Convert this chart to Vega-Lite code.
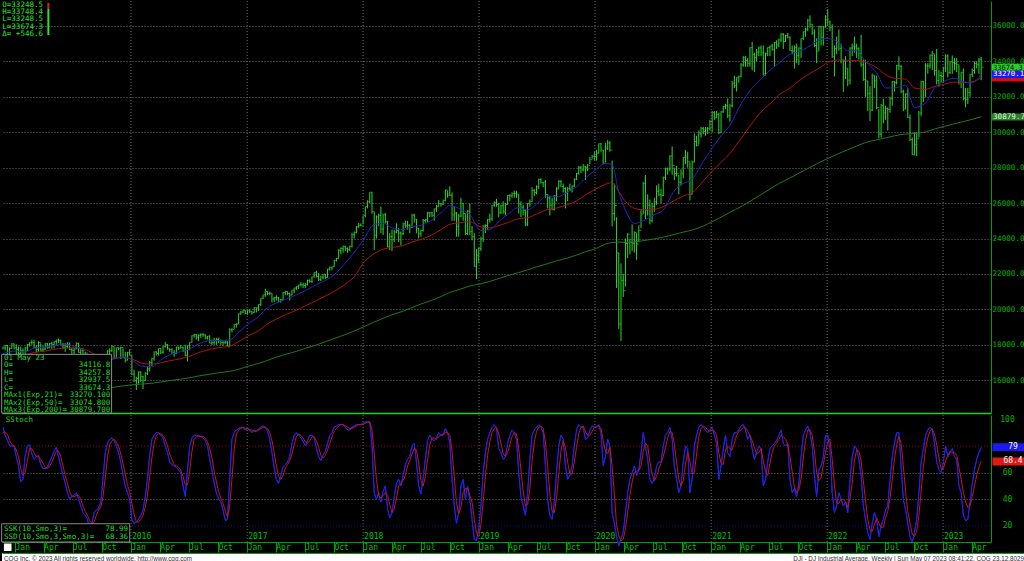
{
"$schema":"https://vega.github.io/schema/vega-lite/v6.json",
"background":"#000000",
"padding":0,
"spacing":0,
"config":{"view":{"stroke":null},"axis":{"domainWidth":1}},
"datasets":{
"yr":[{"t":"2016-01-01","n":"2016"},{"t":"2017-01-01","n":"2017"},{"t":"2018-01-01","n":"2018"},{"t":"2019-01-01","n":"2019"},{"t":"2020-01-01","n":"2020"},{"t":"2021-01-01","n":"2021"},{"t":"2022-01-01","n":"2022"},{"t":"2023-01-01","n":"2023"}],
"ma":[
{"t":"2014-11-24","a":17500,"b":17250,"g":14450},{"t":"2015-01-05","a":17650,"b":17420,"g":14560},{"t":"2015-02-02","a":17600,"b":17450,"g":14650},{"t":"2015-03-02","a":17820,"b":17560,"g":14760},{"t":"2015-04-06","a":17870,"b":17650,"g":14880},{"t":"2015-05-04","a":17960,"b":17740,"g":14990},{"t":"2015-06-01","a":18040,"b":17820,"g":15100},{"t":"2015-07-06","a":17900,"b":17830,"g":15220},{"t":"2015-08-03","a":17750,"b":17780,"g":15320},{"t":"2015-09-07","a":17120,"b":17480,"g":15400},{"t":"2015-10-05","a":16880,"b":17260,"g":15490},{"t":"2015-11-02","a":17150,"b":17250,"g":15590},{"t":"2015-12-07","a":17320,"b":17270,"g":15680},
{"t":"2016-01-04","a":17150,"b":17200,"g":15740},{"t":"2016-02-01","a":16800,"b":16980,"g":15780},{"t":"2016-03-07","a":16750,"b":16900,"g":15830},{"t":"2016-04-04","a":17150,"b":16980,"g":15900},{"t":"2016-05-02","a":17430,"b":17100,"g":15980},{"t":"2016-06-06","a":17620,"b":17220,"g":16060},{"t":"2016-07-04","a":17760,"b":17360,"g":16140},{"t":"2016-08-01","a":18050,"b":17560,"g":16240},{"t":"2016-09-05","a":18230,"b":17740,"g":16340},{"t":"2016-10-03","a":18240,"b":17840,"g":16420},{"t":"2016-11-07","a":18280,"b":17920,"g":16500},{"t":"2016-12-05","a":18700,"b":18180,"g":16620},
{"t":"2017-01-02","a":19150,"b":18480,"g":16780},{"t":"2017-02-06","a":19600,"b":18800,"g":16950},{"t":"2017-03-06","a":20100,"b":19180,"g":17120},{"t":"2017-04-03","a":20360,"b":19450,"g":17300},{"t":"2017-05-01","a":20560,"b":19700,"g":17460},{"t":"2017-06-05","a":20820,"b":19950,"g":17630},{"t":"2017-07-03","a":21060,"b":20200,"g":17800},{"t":"2017-08-07","a":21400,"b":20500,"g":17990},{"t":"2017-09-04","a":21630,"b":20750,"g":18170},{"t":"2017-10-02","a":21960,"b":21020,"g":18350},{"t":"2017-11-06","a":22620,"b":21420,"g":18580},{"t":"2017-12-04","a":23220,"b":21850,"g":18780},
{"t":"2018-01-01","a":23900,"b":22600,"g":19000},{"t":"2018-02-05","a":24800,"b":23150,"g":19280},{"t":"2018-03-05","a":24850,"b":23400,"g":19500},{"t":"2018-04-02","a":24600,"b":23500,"g":19700},{"t":"2018-05-07","a":24500,"b":23600,"g":19900},{"t":"2018-06-04","a":24680,"b":23800,"g":20100},{"t":"2018-07-02","a":24750,"b":23950,"g":20300},{"t":"2018-08-06","a":25050,"b":24200,"g":20520},{"t":"2018-09-03","a":25450,"b":24500,"g":20720},{"t":"2018-10-01","a":25850,"b":24800,"g":20950},{"t":"2018-11-05","a":25650,"b":24900,"g":21150},{"t":"2018-12-03","a":25350,"b":24950,"g":21320},
{"t":"2019-01-07","a":24450,"b":24650,"g":21450},{"t":"2019-02-04","a":24500,"b":24600,"g":21580},{"t":"2019-03-04","a":24950,"b":24720,"g":21740},{"t":"2019-04-01","a":25350,"b":24900,"g":21900},{"t":"2019-05-06","a":25750,"b":25120,"g":22080},{"t":"2019-06-03","a":25620,"b":25170,"g":22230},{"t":"2019-07-01","a":25950,"b":25380,"g":22400},{"t":"2019-08-05","a":26420,"b":25640,"g":22580},{"t":"2019-09-02","a":26350,"b":25720,"g":22740},{"t":"2019-10-07","a":26620,"b":25920,"g":22900},{"t":"2019-11-04","a":26920,"b":26120,"g":23070},{"t":"2019-12-02","a":27420,"b":26460,"g":23250},
{"t":"2020-01-06","a":27920,"b":26820,"g":23450},{"t":"2020-02-03","a":28240,"b":27060,"g":23680},{"t":"2020-02-24","a":28180,"b":27150,"g":23780},{"t":"2020-03-16","a":26600,"b":26650,"g":23800},{"t":"2020-04-06","a":25600,"b":26100,"g":23780},{"t":"2020-05-04","a":24850,"b":25700,"g":23800},{"t":"2020-06-01","a":25000,"b":25620,"g":23880},{"t":"2020-07-06","a":25350,"b":25650,"g":23980},{"t":"2020-08-03","a":25600,"b":25800,"g":24080},{"t":"2020-09-07","a":26700,"b":26150,"g":24230},{"t":"2020-10-05","a":27100,"b":26400,"g":24360},{"t":"2020-11-02","a":27350,"b":26580,"g":24480},{"t":"2020-12-07","a":28350,"b":27250,"g":24700},
{"t":"2021-01-04","a":29100,"b":27800,"g":24950},{"t":"2021-02-01","a":29800,"b":28300,"g":25200},{"t":"2021-03-01","a":30400,"b":28800,"g":25480},{"t":"2021-04-05","a":31600,"b":29650,"g":25800},{"t":"2021-05-03","a":32350,"b":30350,"g":26100},{"t":"2021-06-07","a":33000,"b":31150,"g":26480},{"t":"2021-07-05","a":33500,"b":31600,"g":26800},{"t":"2021-08-02","a":33900,"b":32100,"g":27100},{"t":"2021-09-06","a":34400,"b":32500,"g":27420},{"t":"2021-10-04","a":34550,"b":32900,"g":27680},{"t":"2021-11-01","a":34800,"b":33250,"g":27950},{"t":"2021-12-06","a":35200,"b":33600,"g":28280},
{"t":"2022-01-03","a":35300,"b":33950,"g":28520},{"t":"2022-02-07","a":35050,"b":34080,"g":28800},{"t":"2022-03-07","a":34600,"b":34060,"g":29020},{"t":"2022-04-04","a":34600,"b":34050,"g":29220},{"t":"2022-05-02","a":34000,"b":33950,"g":29420},{"t":"2022-06-06","a":33350,"b":33650,"g":29570},{"t":"2022-07-04","a":32500,"b":33250,"g":29680},{"t":"2022-08-01","a":32500,"b":33050,"g":29800},{"t":"2022-09-05","a":32650,"b":33000,"g":29900},{"t":"2022-10-03","a":31400,"b":32500,"g":29930},{"t":"2022-11-07","a":31650,"b":32420,"g":30020},{"t":"2022-12-05","a":32500,"b":32580,"g":30180},
{"t":"2023-01-02","a":32850,"b":32700,"g":30320},{"t":"2023-02-06","a":33050,"b":32830,"g":30480},{"t":"2023-03-06","a":32850,"b":32800,"g":30600},{"t":"2023-04-03","a":32800,"b":32850,"g":30730},{"t":"2023-05-01","a":33270,"b":33075,"g":30880}
],
"w":[
{"t":"2014-11-24","h":17895,"l":17740,"c":17828,"k":94,"d":90},{"t":"2014-12-01","h":17991,"l":17684,"c":17959,"k":88,"d":90},{"t":"2014-12-08","h":17990,"l":17263,"c":17280,"k":84,"d":89},{"t":"2014-12-15","h":17850,"l":17068,"c":17805,"k":80,"d":84},{"t":"2014-12-22","h":18103,"l":17790,"c":18053,"k":80,"d":81},{"t":"2014-12-29","h":18070,"l":17736,"c":17833,"k":80,"d":80},
{"t":"2015-01-05","h":18030,"l":17260,"c":17737,"k":72,"d":77},{"t":"2015-01-12","h":17900,"l":17137,"c":17511,"k":65,"d":72},{"t":"2015-01-19","h":17900,"l":17350,"c":17672,"k":53,"d":63},{"t":"2015-01-26","h":17800,"l":17137,"c":17165,"k":55,"d":58},{"t":"2015-02-02","h":17890,"l":17037,"c":17824,"k":73,"d":60},{"t":"2015-02-09","h":18050,"l":17650,"c":18019,"k":80,"d":69},{"t":"2015-02-16","h":18140,"l":17900,"c":18140,"k":81,"d":78},{"t":"2015-02-23","h":18290,"l":18000,"c":18133,"k":74,"d":78},{"t":"2015-03-02","h":18288,"l":17800,"c":17856,"k":70,"d":75},{"t":"2015-03-09","h":17980,"l":17580,"c":17749,"k":72,"d":72},{"t":"2015-03-16","h":18200,"l":17600,"c":18127,"k":73,"d":72},{"t":"2015-03-23","h":18070,"l":17660,"c":17712,"k":66,"d":70},{"t":"2015-03-30","h":17950,"l":17580,"c":17763,"k":63,"d":67},{"t":"2015-04-06","h":18100,"l":17700,"c":18057,"k":63,"d":64},{"t":"2015-04-13","h":18100,"l":17780,"c":17826,"k":64,"d":63},{"t":"2015-04-20","h":18100,"l":17820,"c":18080,"k":68,"d":65},{"t":"2015-04-27","h":18175,"l":17790,"c":18024,"k":72,"d":68},{"t":"2015-05-04","h":18200,"l":17800,"c":18191,"k":76,"d":72},{"t":"2015-05-11","h":18290,"l":17960,"c":18272,"k":79,"d":76},{"t":"2015-05-18","h":18351,"l":18100,"c":18232,"k":72,"d":76},{"t":"2015-05-25","h":18300,"l":17990,"c":18010,"k":65,"d":72},{"t":"2015-06-01","h":18100,"l":17750,"c":17849,"k":58,"d":65},{"t":"2015-06-08","h":18100,"l":17600,"c":17898,"k":52,"d":58},{"t":"2015-06-15","h":18150,"l":17800,"c":18015,"k":45,"d":52},{"t":"2015-06-22","h":18130,"l":17700,"c":17730,"k":40,"d":46},{"t":"2015-06-29","h":17830,"l":17470,"c":17683,"k":42,"d":42},{"t":"2015-07-06","h":17830,"l":17470,"c":17760,"k":43,"d":42},{"t":"2015-07-13","h":18137,"l":17760,"c":18086,"k":45,"d":43},{"t":"2015-07-20","h":18100,"l":17550,"c":17569,"k":40,"d":43},{"t":"2015-07-27","h":17750,"l":17400,"c":17690,"k":35,"d":40},{"t":"2015-08-03","h":17750,"l":17300,"c":17373,"k":30,"d":35},{"t":"2015-08-10","h":17600,"l":17200,"c":17477,"k":28,"d":31},{"t":"2015-08-17","h":17550,"l":16450,"c":16460,"k":25,"d":28},{"t":"2015-08-24","h":16650,"l":15370,"c":16643,"k":18,"d":24},{"t":"2015-08-31","h":16700,"l":16000,"c":16102,"k":22,"d":22},{"t":"2015-09-07","h":16500,"l":16050,"c":16433,"k":30,"d":23},{"t":"2015-09-14","h":16900,"l":16300,"c":16384,"k":32,"d":28},{"t":"2015-09-21","h":16500,"l":16000,"c":16315,"k":33,"d":32},{"t":"2015-09-28","h":16500,"l":15940,"c":16472,"k":38,"d":34},{"t":"2015-10-05","h":17100,"l":16500,"c":17084,"k":55,"d":42},{"t":"2015-10-12","h":17220,"l":16800,"c":17216,"k":75,"d":56},{"t":"2015-10-19","h":17700,"l":17150,"c":17646,"k":82,"d":71},{"t":"2015-10-26","h":17800,"l":17450,"c":17663,"k":85,"d":81},{"t":"2015-11-02","h":17980,"l":17600,"c":17910,"k":86,"d":84},{"t":"2015-11-09","h":17900,"l":17200,"c":17245,"k":84,"d":85},{"t":"2015-11-16","h":17850,"l":17240,"c":17823,"k":80,"d":83},{"t":"2015-11-23","h":17850,"l":17700,"c":17798,"k":75,"d":80},{"t":"2015-11-30","h":17900,"l":17200,"c":17848,"k":68,"d":74},{"t":"2015-12-07","h":17800,"l":17250,"c":17265,"k":58,"d":67},{"t":"2015-12-14","h":17600,"l":17000,"c":17128,"k":50,"d":59},{"t":"2015-12-21","h":17600,"l":17130,"c":17553,"k":45,"d":51},{"t":"2015-12-28","h":17750,"l":17400,"c":17425,"k":40,"d":45},
{"t":"2016-01-04","h":17400,"l":16300,"c":16347,"k":25,"d":37},{"t":"2016-01-11","h":16600,"l":15900,"c":15988,"k":22,"d":29},{"t":"2016-01-18","h":16200,"l":15450,"c":16094,"k":23,"d":23},{"t":"2016-01-25","h":16500,"l":15800,"c":16466,"k":25,"d":23},{"t":"2016-02-01","h":16500,"l":15900,"c":16205,"k":28,"d":25},{"t":"2016-02-08","h":16250,"l":15503,"c":15974,"k":32,"d":28},{"t":"2016-02-15","h":16450,"l":15950,"c":16392,"k":42,"d":34},{"t":"2016-02-22","h":16800,"l":16300,"c":16640,"k":55,"d":43},{"t":"2016-02-29","h":17100,"l":16500,"c":17007,"k":73,"d":57},{"t":"2016-03-07","h":17250,"l":16800,"c":17213,"k":85,"d":71},{"t":"2016-03-14","h":17620,"l":17100,"c":17602,"k":88,"d":82},{"t":"2016-03-21","h":17620,"l":17400,"c":17515,"k":90,"d":88},{"t":"2016-03-28","h":17800,"l":17400,"c":17792,"k":90,"d":89},{"t":"2016-04-04","h":17800,"l":17480,"c":17577,"k":88,"d":89},{"t":"2016-04-11","h":17950,"l":17500,"c":17897,"k":86,"d":88},{"t":"2016-04-18","h":18167,"l":17850,"c":18003,"k":80,"d":85},{"t":"2016-04-25","h":18040,"l":17720,"c":17773,"k":75,"d":80},{"t":"2016-05-02","h":17800,"l":17600,"c":17740,"k":68,"d":74},{"t":"2016-05-09","h":17800,"l":17500,"c":17535,"k":66,"d":70},{"t":"2016-05-16","h":17700,"l":17330,"c":17500,"k":65,"d":66},{"t":"2016-05-23","h":17900,"l":17500,"c":17873,"k":64,"d":65},{"t":"2016-05-30","h":17900,"l":17700,"c":17807,"k":62,"d":64},{"t":"2016-06-06","h":18000,"l":17800,"c":17865,"k":60,"d":62},{"t":"2016-06-13","h":17900,"l":17600,"c":17675,"k":50,"d":57},{"t":"2016-06-20","h":18000,"l":17350,"c":17400,"k":42,"d":51},{"t":"2016-06-27","h":17950,"l":17063,"c":17949,"k":62,"d":51},{"t":"2016-07-04","h":18150,"l":17700,"c":18147,"k":80,"d":61},{"t":"2016-07-11","h":18537,"l":18150,"c":18516,"k":86,"d":76},{"t":"2016-07-18","h":18622,"l":18400,"c":18571,"k":88,"d":85},{"t":"2016-07-25","h":18600,"l":18300,"c":18432,"k":88,"d":87},{"t":"2016-08-01","h":18600,"l":18200,"c":18544,"k":87,"d":88},{"t":"2016-08-08","h":18650,"l":18400,"c":18577,"k":87,"d":87},{"t":"2016-08-15","h":18670,"l":18450,"c":18553,"k":86,"d":87},{"t":"2016-08-22","h":18600,"l":18300,"c":18395,"k":84,"d":86},{"t":"2016-08-29","h":18500,"l":18300,"c":18492,"k":80,"d":83},{"t":"2016-09-05","h":18530,"l":18080,"c":18086,"k":70,"d":78},{"t":"2016-09-12","h":18300,"l":17990,"c":18124,"k":62,"d":71},{"t":"2016-09-19","h":18400,"l":18000,"c":18261,"k":52,"d":61},{"t":"2016-09-26","h":18400,"l":17990,"c":18308,"k":45,"d":53},{"t":"2016-10-03","h":18400,"l":18100,"c":18240,"k":40,"d":46},{"t":"2016-10-10","h":18300,"l":18000,"c":18138,"k":38,"d":41},{"t":"2016-10-17","h":18200,"l":17960,"c":18145,"k":32,"d":37},{"t":"2016-10-24","h":18250,"l":18050,"c":18161,"k":24,"d":31},{"t":"2016-10-31","h":18200,"l":17883,"c":17888,"k":25,"d":27},{"t":"2016-11-07","h":18934,"l":17900,"c":18847,"k":55,"d":35},{"t":"2016-11-14","h":18935,"l":18700,"c":18868,"k":85,"d":55},{"t":"2016-11-21","h":19160,"l":18900,"c":19152,"k":90,"d":77},{"t":"2016-11-28","h":19226,"l":18970,"c":19171,"k":92,"d":89},{"t":"2016-12-05","h":19760,"l":19180,"c":19757,"k":93,"d":92},{"t":"2016-12-12","h":19911,"l":19700,"c":19843,"k":94,"d":93},{"t":"2016-12-19","h":19987,"l":19800,"c":19934,"k":94,"d":94},{"t":"2016-12-26","h":19950,"l":19720,"c":19763,"k":92,"d":93},
{"t":"2017-01-02","h":19999,"l":19700,"c":19964,"k":93,"d":93},{"t":"2017-01-09","h":19980,"l":19800,"c":19886,"k":92,"d":92},{"t":"2017-01-16","h":19900,"l":19700,"c":19827,"k":90,"d":92},{"t":"2017-01-23","h":20125,"l":19800,"c":20094,"k":92,"d":91},{"t":"2017-01-30","h":20100,"l":19830,"c":20071,"k":91,"d":91},{"t":"2017-02-06","h":20298,"l":19900,"c":20269,"k":93,"d":92},{"t":"2017-02-13","h":20650,"l":20200,"c":20624,"k":94,"d":93},{"t":"2017-02-20","h":20840,"l":20600,"c":20822,"k":95,"d":94},{"t":"2017-02-27","h":21169,"l":20700,"c":21005,"k":94,"d":94},{"t":"2017-03-06","h":21000,"l":20800,"c":20902,"k":91,"d":93},{"t":"2017-03-13","h":21000,"l":20800,"c":20914,"k":85,"d":90},{"t":"2017-03-20","h":20900,"l":20400,"c":20596,"k":75,"d":84},{"t":"2017-03-27","h":20700,"l":20400,"c":20663,"k":64,"d":75},{"t":"2017-04-03","h":20800,"l":20500,"c":20656,"k":55,"d":65},{"t":"2017-04-10","h":20700,"l":20400,"c":20453,"k":52,"d":57},{"t":"2017-04-17","h":20600,"l":20380,"c":20548,"k":58,"d":55},{"t":"2017-04-24","h":21000,"l":20550,"c":20940,"k":64,"d":58},{"t":"2017-05-01","h":21050,"l":20800,"c":21006,"k":66,"d":63},{"t":"2017-05-08","h":21000,"l":20800,"c":20896,"k":68,"d":66},{"t":"2017-05-15","h":20950,"l":20500,"c":20804,"k":72,"d":69},{"t":"2017-05-22","h":21100,"l":20800,"c":21080,"k":82,"d":74},{"t":"2017-05-29","h":21225,"l":20900,"c":21206,"k":88,"d":81},{"t":"2017-06-05","h":21305,"l":21100,"c":21271,"k":90,"d":87},{"t":"2017-06-12","h":21391,"l":21150,"c":21384,"k":88,"d":89},{"t":"2017-06-19","h":21535,"l":21300,"c":21394,"k":86,"d":88},{"t":"2017-06-26","h":21500,"l":21200,"c":21350,"k":83,"d":86},{"t":"2017-07-03","h":21500,"l":21200,"c":21414,"k":80,"d":83},{"t":"2017-07-10","h":21680,"l":21350,"c":21638,"k":84,"d":82},{"t":"2017-07-17","h":21690,"l":21500,"c":21580,"k":88,"d":84},{"t":"2017-07-24","h":21850,"l":21500,"c":21830,"k":88,"d":87},{"t":"2017-07-31","h":22100,"l":21800,"c":22092,"k":86,"d":87},{"t":"2017-08-07","h":22179,"l":21800,"c":21858,"k":78,"d":84},{"t":"2017-08-14","h":22050,"l":21600,"c":21675,"k":72,"d":79},{"t":"2017-08-21","h":21900,"l":21600,"c":21814,"k":69,"d":73},{"t":"2017-08-28","h":22000,"l":21700,"c":21988,"k":73,"d":71},{"t":"2017-09-04","h":22000,"l":21700,"c":21798,"k":76,"d":73},{"t":"2017-09-11","h":22290,"l":21800,"c":22268,"k":82,"d":77},{"t":"2017-09-18","h":22420,"l":22200,"c":22349,"k":88,"d":82},{"t":"2017-09-25","h":22420,"l":22200,"c":22405,"k":90,"d":87},{"t":"2017-10-02","h":22800,"l":22400,"c":22773,"k":94,"d":91},{"t":"2017-10-09","h":22900,"l":22700,"c":22871,"k":95,"d":93},{"t":"2017-10-16","h":23400,"l":22900,"c":23329,"k":96,"d":95},{"t":"2017-10-23","h":23500,"l":23100,"c":23434,"k":96,"d":96},{"t":"2017-10-30","h":23600,"l":23200,"c":23539,"k":96,"d":96},{"t":"2017-11-06","h":23602,"l":23300,"c":23422,"k":94,"d":95},{"t":"2017-11-13","h":23500,"l":23200,"c":23358,"k":92,"d":94},{"t":"2017-11-20","h":23600,"l":23300,"c":23558,"k":92,"d":93},{"t":"2017-11-27","h":24327,"l":23500,"c":24231,"k":94,"d":93},{"t":"2017-12-04","h":24400,"l":24000,"c":24329,"k":95,"d":94},{"t":"2017-12-11","h":24700,"l":24300,"c":24651,"k":96,"d":95},{"t":"2017-12-18","h":24876,"l":24600,"c":24754,"k":96,"d":96},{"t":"2017-12-25","h":24850,"l":24700,"c":24719,"k":96,"d":96},
{"t":"2018-01-01","h":25300,"l":24800,"c":25296,"k":97,"d":96},{"t":"2018-01-08","h":25804,"l":25200,"c":25803,"k":98,"d":97},{"t":"2018-01-15","h":26154,"l":25700,"c":26072,"k":98,"d":98},{"t":"2018-01-22","h":26617,"l":26000,"c":26617,"k":98,"d":98},{"t":"2018-01-29","h":26616,"l":25400,"c":25521,"k":80,"d":92},{"t":"2018-02-05","h":25500,"l":23360,"c":24191,"k":45,"d":74},{"t":"2018-02-12","h":25300,"l":24000,"c":25219,"k":40,"d":55},{"t":"2018-02-19","h":25400,"l":24700,"c":25310,"k":45,"d":43},{"t":"2018-02-26","h":25800,"l":24300,"c":24538,"k":38,"d":41},{"t":"2018-03-05","h":25400,"l":24200,"c":25336,"k":46,"d":43},{"t":"2018-03-12","h":25450,"l":24850,"c":24946,"k":50,"d":45},{"t":"2018-03-19","h":25000,"l":23500,"c":23533,"k":33,"d":43},{"t":"2018-03-26","h":24300,"l":23350,"c":24103,"k":26,"d":36},{"t":"2018-04-02","h":24500,"l":23300,"c":23933,"k":30,"d":30},{"t":"2018-04-09","h":24500,"l":23800,"c":24360,"k":42,"d":33},{"t":"2018-04-16","h":24860,"l":24300,"c":24463,"k":52,"d":41},{"t":"2018-04-23","h":24600,"l":23800,"c":24311,"k":55,"d":50},{"t":"2018-04-30","h":24400,"l":23600,"c":24263,"k":50,"d":52},{"t":"2018-05-07","h":24900,"l":24200,"c":24831,"k":58,"d":54},{"t":"2018-05-14","h":25000,"l":24600,"c":24715,"k":66,"d":58},{"t":"2018-05-21","h":25000,"l":24500,"c":24753,"k":70,"d":65},{"t":"2018-05-28","h":24800,"l":24300,"c":24635,"k":72,"d":69},{"t":"2018-06-04","h":25400,"l":24600,"c":25317,"k":80,"d":74},{"t":"2018-06-11","h":25400,"l":24900,"c":25090,"k":82,"d":78},{"t":"2018-06-18","h":25100,"l":24300,"c":24581,"k":68,"d":77},{"t":"2018-06-25","h":24600,"l":24000,"c":24271,"k":50,"d":67},{"t":"2018-07-02","h":24500,"l":24100,"c":24456,"k":44,"d":54},{"t":"2018-07-09","h":25100,"l":24400,"c":25019,"k":56,"d":50},{"t":"2018-07-16","h":25100,"l":24900,"c":25058,"k":70,"d":57},{"t":"2018-07-23","h":25500,"l":24900,"c":25451,"k":84,"d":70},{"t":"2018-07-30","h":25500,"l":25200,"c":25463,"k":88,"d":81},{"t":"2018-08-06","h":25500,"l":25200,"c":25313,"k":85,"d":86},{"t":"2018-08-13","h":25700,"l":25000,"c":25669,"k":84,"d":86},{"t":"2018-08-20","h":25900,"l":25500,"c":25790,"k":86,"d":85},{"t":"2018-08-27","h":26170,"l":25800,"c":25965,"k":90,"d":87},{"t":"2018-09-03","h":26000,"l":25800,"c":25917,"k":88,"d":88},{"t":"2018-09-10","h":26200,"l":25900,"c":26155,"k":88,"d":89},{"t":"2018-09-17","h":26770,"l":26100,"c":26744,"k":93,"d":90},{"t":"2018-09-24","h":26700,"l":26300,"c":26458,"k":90,"d":90},{"t":"2018-10-01","h":26951,"l":26400,"c":26447,"k":82,"d":88},{"t":"2018-10-08","h":26600,"l":25000,"c":25340,"k":55,"d":76},{"t":"2018-10-15","h":25800,"l":25000,"c":25444,"k":35,"d":57},{"t":"2018-10-22","h":25500,"l":24100,"c":24688,"k":22,"d":37},{"t":"2018-10-29","h":25400,"l":24100,"c":25270,"k":30,"d":29},{"t":"2018-11-05","h":26300,"l":25200,"c":25989,"k":50,"d":34},{"t":"2018-11-12","h":26000,"l":25000,"c":25413,"k":55,"d":45},{"t":"2018-11-19","h":25400,"l":24200,"c":24285,"k":40,"d":48},{"t":"2018-11-26","h":25600,"l":24200,"c":25538,"k":50,"d":48},{"t":"2018-12-03","h":25980,"l":24200,"c":24389,"k":40,"d":43},{"t":"2018-12-10","h":24700,"l":23900,"c":24100,"k":25,"d":38},{"t":"2018-12-17","h":24300,"l":22400,"c":22445,"k":10,"d":25},{"t":"2018-12-24","h":23400,"l":21713,"c":23062,"k":9,"d":15},{"t":"2018-12-31","h":23500,"l":22600,"c":23433,"k":18,"d":12},
{"t":"2019-01-07","h":24100,"l":23300,"c":23996,"k":35,"d":21},{"t":"2019-01-14","h":24750,"l":23800,"c":24706,"k":60,"d":38},{"t":"2019-01-21","h":24800,"l":24300,"c":24737,"k":75,"d":57},{"t":"2019-01-28","h":25100,"l":24500,"c":25064,"k":85,"d":73},{"t":"2019-02-04","h":25400,"l":24900,"c":25106,"k":90,"d":83},{"t":"2019-02-11","h":25900,"l":25000,"c":25883,"k":94,"d":90},{"t":"2019-02-18","h":26100,"l":25800,"c":26031,"k":96,"d":93},{"t":"2019-02-25","h":26241,"l":25800,"c":25916,"k":93,"d":94},{"t":"2019-03-04","h":26000,"l":25200,"c":25450,"k":78,"d":89},{"t":"2019-03-11","h":25900,"l":25400,"c":25848,"k":75,"d":82},{"t":"2019-03-18","h":26100,"l":25400,"c":25502,"k":70,"d":74},{"t":"2019-03-25","h":26000,"l":25300,"c":25929,"k":72,"d":72},{"t":"2019-04-01","h":26450,"l":25900,"c":26425,"k":82,"d":75},{"t":"2019-04-08","h":26500,"l":26100,"c":26412,"k":88,"d":81},{"t":"2019-04-15","h":26600,"l":26300,"c":26559,"k":92,"d":87},{"t":"2019-04-22","h":26700,"l":26300,"c":26543,"k":90,"d":90},{"t":"2019-04-29","h":26700,"l":26300,"c":26505,"k":85,"d":89},{"t":"2019-05-06","h":26500,"l":25400,"c":25942,"k":60,"d":78},{"t":"2019-05-13","h":26100,"l":25200,"c":25764,"k":42,"d":62},{"t":"2019-05-20","h":25900,"l":25300,"c":25585,"k":35,"d":46},{"t":"2019-05-27","h":25600,"l":24700,"c":24815,"k":28,"d":35},{"t":"2019-06-03","h":26000,"l":24700,"c":25983,"k":45,"d":36},{"t":"2019-06-10","h":26200,"l":25800,"c":26090,"k":70,"d":48},{"t":"2019-06-17","h":26900,"l":26100,"c":26719,"k":88,"d":68},{"t":"2019-06-24","h":26800,"l":26400,"c":26600,"k":92,"d":83},{"t":"2019-07-01","h":27000,"l":26500,"c":26922,"k":94,"d":91},{"t":"2019-07-08","h":27388,"l":26800,"c":27332,"k":96,"d":94},{"t":"2019-07-15","h":27399,"l":27100,"c":27154,"k":94,"d":95},{"t":"2019-07-22","h":27200,"l":26900,"c":27192,"k":90,"d":93},{"t":"2019-07-29","h":27300,"l":26300,"c":26485,"k":65,"d":83},{"t":"2019-08-05","h":26500,"l":25700,"c":26287,"k":40,"d":65},{"t":"2019-08-12","h":26400,"l":25300,"c":25886,"k":28,"d":44},{"t":"2019-08-19","h":26300,"l":25600,"c":25629,"k":25,"d":31},{"t":"2019-08-26","h":26450,"l":25600,"c":26403,"k":38,"d":30},{"t":"2019-09-02","h":26900,"l":26100,"c":26797,"k":60,"d":41},{"t":"2019-09-09","h":27300,"l":26800,"c":27220,"k":80,"d":59},{"t":"2019-09-16","h":27300,"l":26900,"c":26935,"k":88,"d":76},{"t":"2019-09-23","h":27100,"l":26600,"c":26820,"k":85,"d":84},{"t":"2019-09-30","h":26900,"l":25700,"c":26573,"k":65,"d":79},{"t":"2019-10-07","h":26900,"l":26100,"c":26817,"k":55,"d":68},{"t":"2019-10-14","h":27100,"l":26700,"c":26770,"k":58,"d":59},{"t":"2019-10-21","h":27000,"l":26600,"c":26958,"k":65,"d":59},{"t":"2019-10-28","h":27400,"l":26900,"c":27347,"k":80,"d":68},{"t":"2019-11-04","h":27700,"l":27300,"c":27681,"k":92,"d":79},{"t":"2019-11-11","h":28100,"l":27600,"c":28005,"k":96,"d":89},{"t":"2019-11-18","h":28100,"l":27700,"c":27876,"k":94,"d":94},{"t":"2019-11-25","h":28200,"l":27800,"c":28051,"k":94,"d":95},{"t":"2019-12-02","h":28100,"l":27300,"c":28015,"k":85,"d":91},{"t":"2019-12-09","h":28200,"l":27800,"c":28135,"k":86,"d":88},{"t":"2019-12-16","h":28600,"l":28200,"c":28455,"k":92,"d":88},{"t":"2019-12-23","h":28700,"l":28500,"c":28645,"k":95,"d":91},{"t":"2019-12-30","h":28900,"l":28400,"c":28634,"k":94,"d":94},
{"t":"2020-01-06","h":29000,"l":28400,"c":28824,"k":94,"d":94},{"t":"2020-01-13","h":29374,"l":28800,"c":29348,"k":96,"d":95},{"t":"2020-01-20","h":29400,"l":28900,"c":28990,"k":90,"d":93},{"t":"2020-01-27","h":29000,"l":28200,"c":28256,"k":65,"d":84},{"t":"2020-02-03","h":29400,"l":28300,"c":29103,"k":72,"d":76},{"t":"2020-02-10","h":29568,"l":29000,"c":29398,"k":85,"d":74},{"t":"2020-02-17","h":29500,"l":28900,"c":28992,"k":80,"d":79},{"t":"2020-02-24","h":28400,"l":24681,"c":25409,"k":30,"d":65},{"t":"2020-03-02","h":27100,"l":25000,"c":25865,"k":22,"d":44},{"t":"2020-03-09","h":25200,"l":21200,"c":23185,"k":12,"d":21},{"t":"2020-03-16","h":23200,"l":18900,"c":19174,"k":5,"d":13},{"t":"2020-03-23","h":22600,"l":18213,"c":21637,"k":10,"d":9},{"t":"2020-03-30","h":22000,"l":20700,"c":21053,"k":15,"d":10},{"t":"2020-04-06","h":24000,"l":21300,"c":23719,"k":30,"d":18},{"t":"2020-04-13","h":24300,"l":22900,"c":24242,"k":45,"d":30},{"t":"2020-04-20","h":24000,"l":23100,"c":23775,"k":55,"d":43},{"t":"2020-04-27","h":24800,"l":23300,"c":23724,"k":60,"d":53},{"t":"2020-05-04","h":24400,"l":23200,"c":24331,"k":65,"d":60},{"t":"2020-05-11","h":24300,"l":22800,"c":23685,"k":58,"d":61},{"t":"2020-05-18","h":24750,"l":23800,"c":24465,"k":62,"d":62},{"t":"2020-05-25","h":25600,"l":24600,"c":25383,"k":75,"d":65},{"t":"2020-06-01","h":27200,"l":25400,"c":27111,"k":90,"d":76},{"t":"2020-06-08","h":27580,"l":25100,"c":25605,"k":80,"d":82},{"t":"2020-06-15","h":26500,"l":25300,"c":25871,"k":70,"d":80},{"t":"2020-06-22","h":26200,"l":24800,"c":25016,"k":55,"d":68},{"t":"2020-06-29","h":26000,"l":24900,"c":25827,"k":52,"d":59},{"t":"2020-07-06","h":26300,"l":25500,"c":26075,"k":55,"d":54},{"t":"2020-07-13","h":27000,"l":25900,"c":26672,"k":65,"d":57},{"t":"2020-07-20","h":27100,"l":26400,"c":26470,"k":68,"d":63},{"t":"2020-07-27","h":26800,"l":26000,"c":26428,"k":68,"d":67},{"t":"2020-08-03","h":27500,"l":26400,"c":27433,"k":80,"d":72},{"t":"2020-08-10","h":28000,"l":27300,"c":27931,"k":88,"d":79},{"t":"2020-08-17","h":28000,"l":27600,"c":27930,"k":90,"d":86},{"t":"2020-08-24","h":28700,"l":27800,"c":28654,"k":94,"d":91},{"t":"2020-08-31","h":29200,"l":27600,"c":28133,"k":85,"d":90},{"t":"2020-09-07","h":28000,"l":27300,"c":27666,"k":65,"d":81},{"t":"2020-09-14","h":28100,"l":27500,"c":27657,"k":55,"d":68},{"t":"2020-09-21","h":27600,"l":26500,"c":27174,"k":45,"d":55},{"t":"2020-09-28","h":27900,"l":27000,"c":27683,"k":50,"d":50},{"t":"2020-10-05","h":28600,"l":27400,"c":28586,"k":68,"d":54},{"t":"2020-10-12","h":29000,"l":28200,"c":28606,"k":80,"d":66},{"t":"2020-10-19","h":28900,"l":28000,"c":28335,"k":78,"d":75},{"t":"2020-10-26","h":28300,"l":26150,"c":26502,"k":45,"d":68},{"t":"2020-11-02","h":28400,"l":26500,"c":28323,"k":55,"d":59},{"t":"2020-11-09","h":29933,"l":28300,"c":29479,"k":80,"d":60},{"t":"2020-11-16","h":29800,"l":29200,"c":29263,"k":88,"d":74},{"t":"2020-11-23","h":30100,"l":29300,"c":29910,"k":94,"d":87},{"t":"2020-11-30","h":30300,"l":29700,"c":30218,"k":96,"d":93},{"t":"2020-12-07","h":30300,"l":29900,"c":30046,"k":94,"d":95},{"t":"2020-12-14","h":30300,"l":29800,"c":30179,"k":92,"d":94},{"t":"2020-12-21","h":30300,"l":29900,"c":30200,"k":90,"d":92},{"t":"2020-12-28","h":30700,"l":30100,"c":30606,"k":92,"d":91},
{"t":"2021-01-04","h":31200,"l":30000,"c":31098,"k":94,"d":92},{"t":"2021-01-11","h":31200,"l":30700,"c":30814,"k":88,"d":91},{"t":"2021-01-18","h":31200,"l":30800,"c":30997,"k":82,"d":88},{"t":"2021-01-25","h":31100,"l":29900,"c":29983,"k":55,"d":75},{"t":"2021-02-01","h":31200,"l":30000,"c":31148,"k":65,"d":67},{"t":"2021-02-08","h":31500,"l":31100,"c":31458,"k":78,"d":66},{"t":"2021-02-15","h":31600,"l":31300,"c":31494,"k":88,"d":77},{"t":"2021-02-22","h":31900,"l":30800,"c":30932,"k":75,"d":80},{"t":"2021-03-01","h":31600,"l":30600,"c":31496,"k":72,"d":78},{"t":"2021-03-08","h":32900,"l":31400,"c":32779,"k":85,"d":77},{"t":"2021-03-15","h":33200,"l":32500,"c":32628,"k":90,"d":82},{"t":"2021-03-22","h":33100,"l":32300,"c":33072,"k":90,"d":88},{"t":"2021-03-29","h":33200,"l":32800,"c":33153,"k":92,"d":91},{"t":"2021-04-05","h":33900,"l":33100,"c":33800,"k":95,"d":92},{"t":"2021-04-12","h":34300,"l":33700,"c":34200,"k":96,"d":94},{"t":"2021-04-19","h":34300,"l":33700,"c":34043,"k":92,"d":94},{"t":"2021-04-26","h":34200,"l":33700,"c":33875,"k":85,"d":91},{"t":"2021-05-03","h":34800,"l":33700,"c":34778,"k":88,"d":88},{"t":"2021-05-10","h":35100,"l":33500,"c":34382,"k":78,"d":84},{"t":"2021-05-17","h":34500,"l":33400,"c":34208,"k":70,"d":79},{"t":"2021-05-24","h":34700,"l":34000,"c":34529,"k":75,"d":74},{"t":"2021-05-31","h":34850,"l":34300,"c":34756,"k":80,"d":75},{"t":"2021-06-07","h":34900,"l":34300,"c":34480,"k":78,"d":78},{"t":"2021-06-14","h":34900,"l":33200,"c":33290,"k":50,"d":69},{"t":"2021-06-21","h":34500,"l":33200,"c":34433,"k":55,"d":61},{"t":"2021-06-28","h":34800,"l":34300,"c":34786,"k":68,"d":58},{"t":"2021-07-05","h":34900,"l":34300,"c":34870,"k":78,"d":67},{"t":"2021-07-12","h":35000,"l":34600,"c":34687,"k":80,"d":75},{"t":"2021-07-19","h":35100,"l":33700,"c":35061,"k":82,"d":80},{"t":"2021-07-26","h":35200,"l":34700,"c":34935,"k":84,"d":82},{"t":"2021-08-02","h":35300,"l":34800,"c":35208,"k":88,"d":85},{"t":"2021-08-09","h":35600,"l":35100,"c":35515,"k":92,"d":88},{"t":"2021-08-16","h":35600,"l":34700,"c":35120,"k":82,"d":87},{"t":"2021-08-23","h":35500,"l":35100,"c":35455,"k":80,"d":85},{"t":"2021-08-30","h":35600,"l":35300,"c":35369,"k":82,"d":81},{"t":"2021-09-06","h":35400,"l":34600,"c":34608,"k":55,"d":72},{"t":"2021-09-13","h":34900,"l":34400,"c":34584,"k":45,"d":61},{"t":"2021-09-20","h":34900,"l":33600,"c":34798,"k":48,"d":49},{"t":"2021-09-27","h":35000,"l":33900,"c":34326,"k":42,"d":45},{"t":"2021-10-04","h":34800,"l":33800,"c":34746,"k":52,"d":47},{"t":"2021-10-11","h":35300,"l":34200,"c":35295,"k":72,"d":55},{"t":"2021-10-18","h":35700,"l":35200,"c":35677,"k":88,"d":71},{"t":"2021-10-25","h":35900,"l":35400,"c":35820,"k":92,"d":84},{"t":"2021-11-01","h":36400,"l":35700,"c":36328,"k":95,"d":92},{"t":"2021-11-08","h":36600,"l":35900,"c":36100,"k":90,"d":92},{"t":"2021-11-15","h":36100,"l":35500,"c":35602,"k":80,"d":88},{"t":"2021-11-22","h":35800,"l":34800,"c":34899,"k":58,"d":76},{"t":"2021-11-29","h":35300,"l":33900,"c":34580,"k":42,"d":60},{"t":"2021-12-06","h":36000,"l":34600,"c":35971,"k":62,"d":54},{"t":"2021-12-13","h":36000,"l":34900,"c":35365,"k":65,"d":56},{"t":"2021-12-20","h":36000,"l":34900,"c":35950,"k":72,"d":66},{"t":"2021-12-27","h":36600,"l":35900,"c":36338,"k":88,"d":75},
{"t":"2022-01-03","h":36952,"l":36000,"c":36231,"k":88,"d":83},{"t":"2022-01-10","h":36300,"l":35700,"c":35912,"k":78,"d":85},{"t":"2022-01-17","h":36100,"l":34200,"c":34265,"k":45,"d":70},{"t":"2022-01-24","h":34900,"l":33150,"c":34725,"k":30,"d":51},{"t":"2022-01-31","h":35400,"l":34400,"c":35089,"k":35,"d":37},{"t":"2022-02-07","h":35800,"l":34600,"c":34738,"k":45,"d":37},{"t":"2022-02-14","h":35000,"l":33900,"c":34079,"k":40,"d":40},{"t":"2022-02-21","h":34100,"l":32272,"c":34058,"k":35,"d":40},{"t":"2022-02-28","h":34300,"l":33000,"c":33614,"k":38,"d":38},{"t":"2022-03-07","h":33600,"l":32600,"c":32944,"k":30,"d":34},{"t":"2022-03-14","h":34800,"l":32700,"c":34754,"k":55,"d":41},{"t":"2022-03-21","h":35000,"l":34300,"c":34861,"k":72,"d":52},{"t":"2022-03-28","h":35400,"l":34500,"c":34818,"k":80,"d":69},{"t":"2022-04-04","h":35000,"l":34200,"c":34721,"k":78,"d":77},{"t":"2022-04-11","h":34800,"l":34100,"c":34451,"k":70,"d":76},{"t":"2022-04-18","h":35500,"l":33700,"c":33811,"k":58,"d":69},{"t":"2022-04-25","h":34100,"l":32900,"c":32977,"k":35,"d":54},{"t":"2022-05-02","h":34100,"l":32000,"c":32899,"k":25,"d":39},{"t":"2022-05-09","h":32900,"l":31200,"c":32197,"k":15,"d":25},{"t":"2022-05-16","h":32600,"l":30636,"c":31262,"k":10,"d":17},{"t":"2022-05-23","h":33300,"l":31200,"c":33213,"k":22,"d":16},{"t":"2022-05-30","h":33200,"l":32500,"c":32900,"k":30,"d":21},{"t":"2022-06-06","h":33200,"l":31300,"c":31393,"k":25,"d":26},{"t":"2022-06-13","h":31300,"l":29650,"c":29889,"k":12,"d":22},{"t":"2022-06-20","h":31600,"l":29700,"c":31501,"k":20,"d":19},{"t":"2022-06-27","h":31900,"l":30500,"c":31097,"k":25,"d":19},{"t":"2022-07-04","h":31500,"l":30700,"c":31338,"k":32,"d":26},{"t":"2022-07-11","h":31400,"l":30100,"c":31289,"k":35,"d":31},{"t":"2022-07-18","h":32000,"l":31100,"c":31899,"k":55,"d":41},{"t":"2022-07-25","h":32900,"l":31500,"c":32845,"k":72,"d":54},{"t":"2022-08-01","h":32900,"l":32300,"c":32803,"k":82,"d":70},{"t":"2022-08-08","h":33800,"l":32700,"c":33761,"k":90,"d":81},{"t":"2022-08-15","h":34281,"l":33500,"c":33707,"k":90,"d":87},{"t":"2022-08-22","h":33800,"l":32200,"c":32283,"k":65,"d":82},{"t":"2022-08-29","h":32400,"l":31200,"c":31318,"k":40,"d":65},{"t":"2022-09-05","h":32200,"l":31300,"c":32152,"k":32,"d":46},{"t":"2022-09-12","h":32500,"l":30800,"c":30822,"k":22,"d":31},{"t":"2022-09-19","h":31000,"l":29500,"c":29590,"k":12,"d":22},{"t":"2022-09-26","h":29700,"l":28715,"c":28726,"k":8,"d":14},{"t":"2022-10-03","h":30000,"l":28700,"c":29297,"k":15,"d":12},{"t":"2022-10-10","h":30000,"l":28660,"c":29635,"k":25,"d":16},{"t":"2022-10-17","h":31200,"l":29700,"c":31083,"k":45,"d":28},{"t":"2022-10-24","h":32900,"l":30900,"c":32861,"k":68,"d":46},{"t":"2022-10-31","h":32900,"l":31700,"c":32403,"k":78,"d":64},{"t":"2022-11-07","h":33900,"l":32000,"c":33748,"k":88,"d":78},{"t":"2022-11-14","h":33900,"l":33300,"c":33746,"k":92,"d":86},{"t":"2022-11-21","h":34400,"l":33600,"c":34347,"k":94,"d":91},{"t":"2022-11-28","h":34600,"l":33500,"c":34430,"k":92,"d":93},{"t":"2022-12-05","h":34400,"l":33200,"c":33477,"k":82,"d":89},{"t":"2022-12-12","h":34700,"l":32700,"c":32920,"k":68,"d":81},{"t":"2022-12-19","h":33500,"l":32573,"c":33204,"k":62,"d":71},{"t":"2022-12-26","h":33400,"l":32800,"c":33147,"k":60,"d":63},
{"t":"2023-01-02","h":33700,"l":32800,"c":33631,"k":68,"d":63},{"t":"2023-01-09","h":34400,"l":33400,"c":34303,"k":80,"d":69},{"t":"2023-01-16","h":34400,"l":33100,"c":33375,"k":72,"d":73},{"t":"2023-01-23","h":34000,"l":33300,"c":33978,"k":75,"d":76},{"t":"2023-01-30","h":34335,"l":33300,"c":33926,"k":78,"d":75},{"t":"2023-02-06","h":34200,"l":33500,"c":33870,"k":72,"d":75},{"t":"2023-02-13","h":34200,"l":33400,"c":33827,"k":70,"d":73},{"t":"2023-02-20","h":33800,"l":32700,"c":32817,"k":50,"d":64},{"t":"2023-02-27","h":33400,"l":32500,"c":33391,"k":45,"d":55},{"t":"2023-03-06","h":33600,"l":31800,"c":31910,"k":28,"d":45},{"t":"2023-03-13","h":32500,"l":31400,"c":31862,"k":24,"d":38},{"t":"2023-03-20","h":32500,"l":31600,"c":32238,"k":25,"d":34},{"t":"2023-03-27","h":33300,"l":32000,"c":33274,"k":38,"d":35},{"t":"2023-04-03","h":33600,"l":33100,"c":33485,"k":52,"d":42},{"t":"2023-04-10","h":34000,"l":33300,"c":33886,"k":62,"d":50},{"t":"2023-04-17","h":34000,"l":33600,"c":33809,"k":70,"d":58},{"t":"2023-04-24","h":34200,"l":33300,"c":34098,"k":75,"d":64},{"t":"2023-05-01","h":34257.8,"l":32937.5,"c":33674.3,"k":78.99,"d":68.36}
]
},
"vconcat":[
{
"width":989,"height":412,
"resolve":{"axis":{"x":"independent","y":"independent"}},
"layer":[
{"data":{"name":"w"},"mark":{"type":"rule","color":"#2ad82a","strokeWidth":1},"encoding":{"x":{"field":"t","type":"temporal","scale":{"domain":[{"year":2014,"month":11,"date":21},{"year":2023,"month":6,"date":1}],"nice":false},"axis":{"orient":"bottom","title":null,"labels":false,"ticks":false,"grid":false,"domain":true,"domainColor":"#1ed21e","domainWidth":1.5}},"y":{"field":"l","type":"quantitative","scale":{"domain":[14150,37410],"nice":false,"zero":false},"axis":{"orient":"right","title":null,"values":[16000,18000,20000,22000,24000,26000,28000,30000,32000,34000,36000],"format":".1f","grid":true,"gridColor":"#707070","gridDash":[1,2],"ticks":false,"domainColor":"#00a000","labelColor":"#00b400","labelFont":"DejaVu Sans Mono","labelFontSize":7.6,"labelPadding":1}},"y2":{"field":"h"}}},
{"data":{"name":"yr"},"mark":{"type":"rule","color":"#6a6a6a","strokeDash":[1,2]},"encoding":{"x":{"field":"t","type":"temporal","axis":null}}},
{"data":{"name":"w"},"mark":{"type":"tick","orient":"horizontal","color":"#2ad82a","size":2,"thickness":1,"xOffset":1.5},"encoding":{"x":{"field":"t","type":"temporal","axis":null},"y":{"field":"c","type":"quantitative","axis":null}}},
{"data":{"name":"ma"},"mark":{"type":"line","color":"#1f7a1f","strokeWidth":1,"interpolate":"monotone"},"encoding":{"x":{"field":"t","type":"temporal","axis":null},"y":{"field":"g","type":"quantitative","axis":null}}},
{"data":{"name":"ma"},"mark":{"type":"line","color":"#b01212","strokeWidth":1,"interpolate":"monotone"},"encoding":{"x":{"field":"t","type":"temporal","axis":null},"y":{"field":"b","type":"quantitative","axis":null}}},
{"data":{"name":"ma"},"mark":{"type":"line","color":"#2424c8","strokeWidth":1,"interpolate":"monotone"},"encoding":{"x":{"field":"t","type":"temporal","axis":null},"y":{"field":"a","type":"quantitative","axis":null}}},
{"data":{"values":[{}]},"mark":{"type":"rect","fill":"#000000","stroke":"#8a8a8a","strokeWidth":1},"encoding":{"x":{"datum":{"year":2014,"month":11,"date":20},"type":"temporal","axis":null},"x2":{"datum":{"year":2015,"month":11,"date":1}},"y":{"datum":17460,"type":"quantitative","axis":null},"y2":{"datum":14150}}},
{"data":{"values":[{"p":17272,"s":"01 May 23"},{"p":16860,"s":"O="},{"p":16425,"s":"H="},{"p":15996,"s":"L="},{"p":15578,"s":"C="},{"p":15166,"s":"MAx1(Exp,21)="},{"p":14732,"s":"MAx2(Exp,50)="},{"p":14303,"s":"MAx3(Exp,200)="}]},"mark":{"type":"text","align":"left","baseline":"middle","font":"DejaVu Sans Mono","fontSize":7.5,"color":"#28d828"},"encoding":{"x":{"datum":{"year":2014,"month":11,"date":27},"type":"temporal","axis":null},"y":{"field":"p","type":"quantitative","axis":null},"text":{"field":"s"}}},
{"data":{"values":[{"p":16860,"s":"34116.8"},{"p":16425,"s":"34257.8"},{"p":15996,"s":"32937.5"},{"p":15578,"s":"33674.3"},{"p":15166,"s":"33270.100"},{"p":14732,"s":"33074.800"},{"p":14303,"s":"30879.700"}]},"mark":{"type":"text","align":"right","baseline":"middle","font":"DejaVu Sans Mono","fontSize":7.5,"color":"#28d828"},"encoding":{"x":{"datum":{"year":2015,"month":10,"date":28},"type":"temporal","axis":null},"y":{"field":"p","type":"quantitative","axis":null},"text":{"field":"s"}}},
{"data":{"values":[{"p":37184,"s":"O=33248.5"},{"p":36789,"s":"H=33748.4"},{"p":36394,"s":"L=33248.5"},{"p":35942,"s":"L=33674.3"},{"p":35547,"s":"Δ= +546.6"}]},"mark":{"type":"text","align":"left","baseline":"middle","font":"DejaVu Sans Mono","fontSize":7.5,"color":"#30e030"},"encoding":{"x":{"datum":{"year":2014,"month":11,"date":22},"type":"temporal","axis":null},"y":{"field":"p","type":"quantitative","axis":null},"text":{"field":"s"}}},
{"data":{"values":[{}]},"mark":{"type":"rule","color":"#e02020","strokeWidth":2},"encoding":{"x":{"datum":{"year":2015,"month":4,"date":16},"type":"temporal","axis":null},"y":{"datum":37297,"type":"quantitative","axis":null},"y2":{"datum":36958}}},
{"data":{"values":[{}]},"mark":{"type":"rule","color":"#30e030","strokeWidth":2},"encoding":{"x":{"datum":{"year":2015,"month":4,"date":16},"type":"temporal","axis":null},"y":{"datum":36958,"type":"quantitative","axis":null},"y2":{"datum":35490}}},
{"data":{"values":[{}]},"mark":{"type":"rect","fill":"#d01010","xOffset":1,"x2Offset":35,"yOffset":-3.6,"y2Offset":3.6},"encoding":{"x":{"datum":{"year":2023,"month":6,"date":1},"type":"temporal","axis":null},"x2":{"datum":{"year":2023,"month":6,"date":1}},"y":{"datum":33074.8,"type":"quantitative","axis":null},"y2":{"datum":33074.8}}},
{"data":{"values":[{}]},"mark":{"type":"rect","fill":"#1a1af0","xOffset":1,"x2Offset":35,"yOffset":-3.6,"y2Offset":3.6},"encoding":{"x":{"datum":{"year":2023,"month":6,"date":1},"type":"temporal","axis":null},"x2":{"datum":{"year":2023,"month":6,"date":1}},"y":{"datum":33270.1,"type":"quantitative","axis":null},"y2":{"datum":33270.1}}},
{"data":{"values":[{}]},"mark":{"type":"text","align":"left","baseline":"middle","dx":2,"font":"DejaVu Sans Mono","fontSize":7.4,"color":"#ffffff","text":"33270.1"},"encoding":{"x":{"datum":{"year":2023,"month":6,"date":1},"type":"temporal","axis":null},"y":{"datum":33270.1,"type":"quantitative","axis":null}}},
{"data":{"values":[{}]},"mark":{"type":"rect","fill":"#2cc82c","xOffset":1,"x2Offset":35,"yOffset":-3.4,"y2Offset":3.4},"encoding":{"x":{"datum":{"year":2023,"month":6,"date":1},"type":"temporal","axis":null},"x2":{"datum":{"year":2023,"month":6,"date":1}},"y":{"datum":33674.3,"type":"quantitative","axis":null},"y2":{"datum":33674.3}}},
{"data":{"values":[{}]},"mark":{"type":"text","align":"left","baseline":"middle","dx":2,"dy":0.5,"font":"DejaVu Sans Mono","fontSize":7.1,"color":"#002000","text":"33674.3"},"encoding":{"x":{"datum":{"year":2023,"month":6,"date":1},"type":"temporal","axis":null},"y":{"datum":33674.3,"type":"quantitative","axis":null}}},
{"data":{"values":[{}]},"mark":{"type":"rect","fill":"#2e7d2e","xOffset":1,"x2Offset":35,"yOffset":-3.6,"y2Offset":3.6},"encoding":{"x":{"datum":{"year":2023,"month":6,"date":1},"type":"temporal","axis":null},"x2":{"datum":{"year":2023,"month":6,"date":1}},"y":{"datum":30860,"type":"quantitative","axis":null},"y2":{"datum":30860}}},
{"data":{"values":[{}]},"mark":{"type":"text","align":"left","baseline":"middle","dx":2,"font":"DejaVu Sans Mono","fontSize":7.6,"color":"#d0ffd0","text":"30879.7"},"encoding":{"x":{"datum":{"year":2023,"month":6,"date":1},"type":"temporal","axis":null},"y":{"datum":30860,"type":"quantitative","axis":null}}}
]
},
{
"width":989,"height":127,
"resolve":{"axis":{"x":"independent","y":"independent"}},
"layer":[
{"data":{"name":"w"},"mark":{"type":"line","color":"#2222e8","strokeWidth":1},"encoding":{"x":{"field":"t","type":"temporal","scale":{"domain":[{"year":2014,"month":11,"date":21},{"year":2023,"month":6,"date":1}],"nice":false},"axis":{"orient":"bottom","title":null,"format":"%b","tickCount":{"interval":"month","step":3},"grid":false,"tickSize":10,"tickColor":"#00a000","domainColor":"#00a000","labelColor":"#00c000","labelFont":"DejaVu Sans Mono","labelFontSize":8,"labelAlign":"left","labelBaseline":"top","labelPadding":-9,"labelDx":3,"labelOverlap":false,"labelFlush":false}},"y":{"field":"k","type":"quantitative","scale":{"domain":[8,103.2],"nice":false,"zero":false},"axis":{"orient":"right","title":null,"values":[20,40,60,100],"format":"d","grid":true,"gridColor":"#707070","gridDash":[1,2],"gridOpacity":{"condition":{"test":"datum.value==100||datum.value==20","value":0},"value":1},"ticks":false,"domainColor":"#00a000","labelColor":"#00b400","labelFont":"DejaVu Sans Mono","labelFontSize":8,"labelAlign":"center","labelPadding":16}}}},
{"data":{"name":"yr"},"mark":{"type":"rule","color":"#6a6a6a","strokeDash":[1,2]},"encoding":{"x":{"field":"t","type":"temporal","axis":null}}},
{"data":{"values":[{}]},"mark":{"type":"rule","color":"#a00000","strokeDash":[1,2]},"encoding":{"y":{"datum":80,"type":"quantitative","axis":null}}},
{"data":{"values":[{}]},"mark":{"type":"rule","color":"#1010a8","strokeDash":[1,2]},"encoding":{"y":{"datum":20,"type":"quantitative","axis":null}}},
{"data":{"name":"w"},"mark":{"type":"line","color":"#2222e8","strokeWidth":1},"encoding":{"x":{"field":"t","type":"temporal","axis":null},"y":{"field":"k","type":"quantitative","axis":null}}},
{"data":{"name":"w"},"mark":{"type":"line","color":"#cc1414","strokeWidth":1},"encoding":{"x":{"field":"t","type":"temporal","axis":null},"y":{"field":"d","type":"quantitative","axis":null}}},
{"data":{"name":"yr"},"mark":{"type":"text","align":"left","baseline":"bottom","dx":1,"font":"DejaVu Sans Mono","fontSize":8,"color":"#00c000"},"encoding":{"x":{"field":"t","type":"temporal","axis":null},"y":{"datum":8.6,"type":"quantitative","axis":null},"text":{"field":"n"}}},
{"data":{"values":[{}]},"mark":{"type":"text","align":"left","baseline":"middle","font":"DejaVu Sans Mono","fontSize":7.5,"color":"#28d828","text":"SStoch"},"encoding":{"x":{"datum":{"year":2014,"month":12,"date":3},"type":"temporal","axis":null},"y":{"datum":99.2,"type":"quantitative","axis":null}}},
{"data":{"values":[{}]},"mark":{"type":"rect","fill":"#000000","stroke":"#8a8a8a","strokeWidth":1},"encoding":{"x":{"datum":{"year":2014,"month":11,"date":20},"type":"temporal","axis":null},"x2":{"datum":{"year":2015,"month":12,"date":28}},"y":{"datum":21.7,"type":"quantitative","axis":null},"y2":{"datum":8}}},
{"data":{"values":[{}]},"mark":{"type":"rect","fill":"#ffffff"},"encoding":{"x":{"datum":{"year":2014,"month":11,"date":27},"type":"temporal","axis":null},"x2":{"datum":{"year":2014,"month":12,"date":21}},"y":{"datum":6.9,"type":"quantitative","axis":null},"y2":{"datum":1.3}}},
{"data":{"values":[{"p":17.5,"s":"SSK(10,Smo,3)="},{"p":11.5,"s":"SSD(10,Smo,3,Smo,3)="}]},"mark":{"type":"text","align":"left","baseline":"middle","font":"DejaVu Sans Mono","fontSize":7.5,"color":"#28d828"},"encoding":{"x":{"datum":{"year":2014,"month":11,"date":27},"type":"temporal","axis":null},"y":{"field":"p","type":"quantitative","axis":null},"text":{"field":"s"}}},
{"data":{"values":[{"p":17.5,"s":"78.99"},{"p":11.5,"s":"68.36"}]},"mark":{"type":"text","align":"right","baseline":"middle","font":"DejaVu Sans Mono","fontSize":7.5,"color":"#28d828"},"encoding":{"x":{"datum":{"year":2015,"month":12,"date":23},"type":"temporal","axis":null},"y":{"field":"p","type":"quantitative","axis":null},"text":{"field":"s"}}},
{"data":{"values":[{}]},"mark":{"type":"rect","fill":"#1a1af0","xOffset":1.5,"x2Offset":34,"yOffset":-4,"y2Offset":4},"encoding":{"x":{"datum":{"year":2023,"month":6,"date":1},"type":"temporal","axis":null},"x2":{"datum":{"year":2023,"month":6,"date":1}},"y":{"datum":78.99,"type":"quantitative","axis":null},"y2":{"datum":78.99}}},
{"data":{"values":[{}]},"mark":{"type":"text","align":"center","baseline":"middle","dx":22,"font":"DejaVu Sans Mono","fontSize":8,"color":"#ffffff","text":"79"},"encoding":{"x":{"datum":{"year":2023,"month":6,"date":1},"type":"temporal","axis":null},"y":{"datum":78.99,"type":"quantitative","axis":null}}},
{"data":{"values":[{}]},"mark":{"type":"rect","fill":"#e01818","xOffset":1.5,"x2Offset":34,"yOffset":-4,"y2Offset":4},"encoding":{"x":{"datum":{"year":2023,"month":6,"date":1},"type":"temporal","axis":null},"x2":{"datum":{"year":2023,"month":6,"date":1}},"y":{"datum":68.36,"type":"quantitative","axis":null},"y2":{"datum":68.36}}},
{"data":{"values":[{}]},"mark":{"type":"text","align":"center","baseline":"middle","dx":22,"font":"DejaVu Sans Mono","fontSize":8,"color":"#ffffff","text":"68.4"},"encoding":{"x":{"datum":{"year":2023,"month":6,"date":1},"type":"temporal","axis":null},"y":{"datum":68.36,"type":"quantitative","axis":null}}}
]
},
{
"width":1024,"height":11,
"view":{"fill":"#ffffff","stroke":null},
"data":{"values":[{}]},
"resolve":{"axis":{"x":"independent","y":"independent"}},
"layer":[
{"mark":{"type":"text","align":"left","baseline":"middle","dx":2,"font":"Liberation Sans","fontSize":6.3,"color":"#303030","text":"CQG Inc. © 2023 All rights reserved worldwide. http://www.cqg.com"},"encoding":{"x":{"datum":0,"type":"quantitative","scale":{"domain":[0,1]},"axis":{"orient":"top","title":null,"labels":false,"ticks":false,"grid":false,"domain":true,"domainColor":"#00a000"}},"y":{"datum":0.5,"type":"quantitative","scale":{"domain":[0,1]},"axis":null}}},
{"mark":{"type":"text","align":"right","baseline":"middle","dx":-2,"font":"Liberation Sans","fontSize":6.3,"color":"#303030","text":"DJI - DJ Industrial Average, Weekly | Sun May 07 2023 08:41:22, CQG 23.12.8029"},"encoding":{"x":{"datum":1,"type":"quantitative","axis":null},"y":{"datum":0.5,"type":"quantitative","axis":null}}}
]
}
]
}
